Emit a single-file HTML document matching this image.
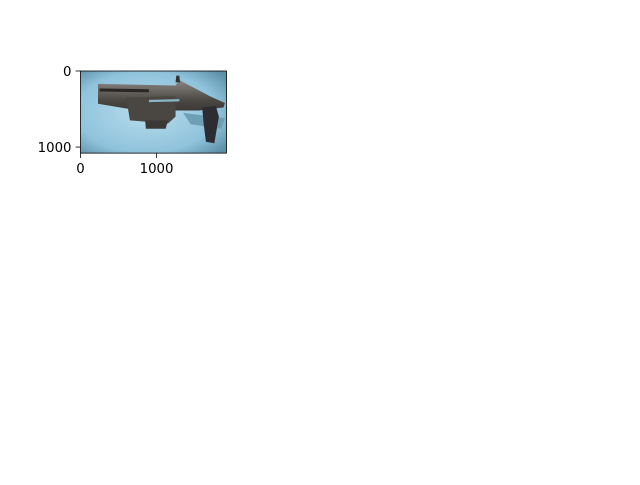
<!DOCTYPE html>
<html><head><meta charset="utf-8"><style>
body{margin:0;background:#fff;width:640px;height:480px;overflow:hidden}
text{font-family:"DejaVu Sans","Liberation Sans",sans-serif;font-size:13.3px;fill:#000}
</style></head><body>
<svg width="640" height="480">
<defs>
<radialGradient id="bg" cx="0.45" cy="0.5" r="0.7">
<stop offset="0" stop-color="#b8dcec"/><stop offset="0.7" stop-color="#8fc3dc"/><stop offset="1" stop-color="#5e8fa8"/>
</radialGradient>
<linearGradient id="metal" x1="0" y1="0" x2="0" y2="1">
<stop offset="0" stop-color="#8a8680"/><stop offset="0.5" stop-color="#4c4844"/><stop offset="1" stop-color="#2e2c2a"/>
</linearGradient>
</defs>
<g id="plot"></g>
</svg>
<script>
const xTicks=[0,1000];
const yTicks=[0,1000];
const imgW=1920, imgH=1080;
const ax={left:80.5,top:71,right:226.5};
const s=(ax.right-ax.left)/imgW;
const X=v=>ax.left+v*s, Y=v=>ax.top+v*s;
const g=document.getElementById('plot');
const NS='http://www.w3.org/2000/svg';
function mk(t,a){const e=document.createElementNS(NS,t);for(const k in a)e.setAttribute(k,a[k]);g.appendChild(e);return e;}
let r=mk('rect',{x:X(0),y:Y(0),width:imgW*s,height:imgH*s,fill:'url(#bg)'});


const shapes=[
 {p:[[1350,550],[1900,620],[1850,760],[1450,700]],f:'#6f9fb5',n:'shadow'},
 {p:[[230,170],[1250,190],[1300,120],[1700,330],[1900,420],[1880,480],[1700,500],[1560,520],[1250,520],[1200,620],[800,640],[650,500],[230,430]],f:'url(#metal)',n:'gun-body'},
 {p:[[1600,480],[1780,460],[1820,600],[1760,950],[1650,930],[1620,700]],f:'#2c2c32',n:'grip'},
 {p:[[600,350],[1250,330],[1250,600],[1150,690],[650,650]],f:'#4a4642',n:'cylinder'},
 {p:[[850,650],[1150,650],[1120,760],[860,760]],f:'#3a3836',n:'lower-barrel'},
 {p:[[250,230],[900,240],[900,280],[250,270]],f:'#2a2826',n:'rail'},
 {p:[[1260,60],[1300,60],[1310,150],[1250,150]],f:'#333',n:'sight'},
 {p:[[900,380],[1300,370],[1300,400],[900,410]],f:'#8cb7c8',n:'highlight'}
];
for(const sh of shapes){
 const e=mk('polygon',{points:sh.p.map(q=>X(q[0])+','+Y(q[1])).join(' '),fill:sh.f});
 
 
}
let fr=mk('rect',{x:X(0),y:Y(0),width:imgW*s,height:imgH*s,fill:'none',stroke:'#000','stroke-width':0.8});


for(const t of xTicks){
 const l=mk('line',{x1:X(t),x2:X(t),y1:Y(imgH),y2:Y(imgH)+4.9,stroke:'#000','stroke-width':0.8});
 
 
 const tx=mk('text',{x:X(t),y:Y(imgH)+20,'text-anchor':'middle'});tx.textContent=t;
 
 
}
for(const t of yTicks){
 const l=mk('line',{x1:X(0)-4.9,x2:X(0),y1:Y(t),y2:Y(t),stroke:'#000','stroke-width':0.8});
 
 
 const tx=mk('text',{x:X(0)-9,y:Y(t)+5,'text-anchor':'end'});tx.textContent=t;
 
 
}
</script>
</body></html>
